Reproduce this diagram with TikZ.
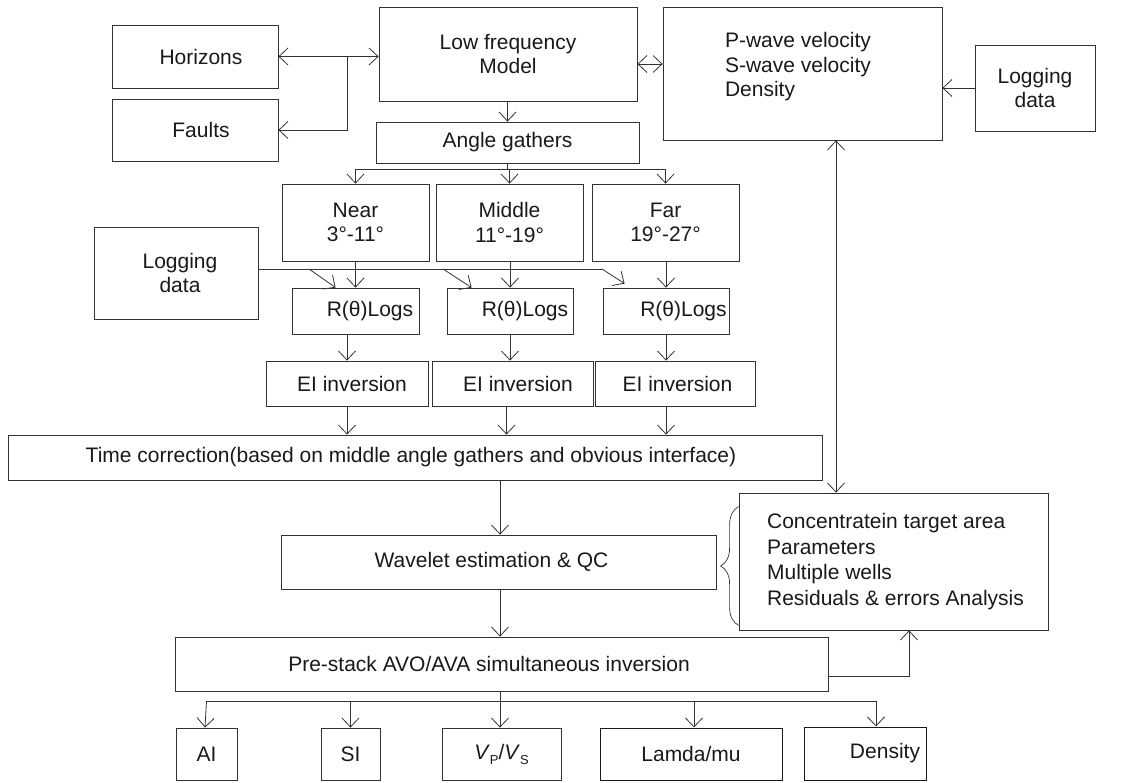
\documentclass[tikz,border=0pt]{standalone}
\usepackage{fontspec}
\setmainfont{Liberation Sans}
\usetikzlibrary{arrows.meta,calc,decorations.pathreplacing}
\newcommand\fsz{\fontsize{21}{24.5}\selectfont}
\begin{document}
\begin{tikzpicture}[x=1pt,y=1pt,
  box/.style={draw=black!80, line width=0.8pt, inner sep=0pt, font=\fsz, text=black!90, align=center},
  thickbox/.style={box, draw=black!90, line width=1.0pt},
  txt/.style={inner sep=0pt, font=\fsz, text=black!90, align=left},
  arr/.style={draw=black!80, line width=0.8pt, -{Straight Barb[length=9pt,width=17pt]}},
  darr/.style={draw=black!80, line width=0.8pt, {Straight Barb[length=9pt,width=17pt]}-{Straight Barb[length=9pt,width=17pt]}},
  ln/.style={draw=black!80, line width=0.8pt}]
\useasboundingbox (0,0) rectangle (1143,-783);
% top row
\node[box,minimum width=166pt,minimum height=63pt] (hor) at (195,-56.5) {\hspace*{12pt}Horizons};
\node[box,minimum width=166pt,minimum height=62pt] (fau) at (195,-130) {\hspace*{12pt}Faults};
\node[box,minimum width=258pt,minimum height=94pt] (lf) at (508,-54) {Low frequency\\Model};
\node[box,minimum width=279pt,minimum height=133pt] (pw) at (802.5,-73.5) {};
\node[txt] (pwt) at (798,-67) {P-wave velocity\\S-wave velocity\\Density};
\node[box,minimum width=120pt,minimum height=86pt] (log2) at (1035,-88) {Logging\\data};
% angle gathers
\node[box,minimum width=263pt,minimum height=41pt] (ang) at (507.5,-142.5) {Angle gathers};
\node[box,minimum width=147pt,minimum height=77pt] (near) at (355.5,-222.5) {Near\\3°-11°};
\node[box,minimum width=147pt,minimum height=77pt] (mid) at (509.5,-222.5) {Middle\\11°-19°};
\node[box,minimum width=147pt,minimum height=77pt] (far) at (665.5,-222.5) {Far\\19°-27°};
\node[box,minimum width=164pt,minimum height=92pt] (log1) at (176,-273) {\hspace*{8pt}Logging\\\hspace*{8pt}data};
% R logs
\node[box,minimum width=127pt,minimum height=46pt] (r1) at (355.5,-311) {\hspace*{29pt}R(θ)Logs};
\node[box,minimum width=126pt,minimum height=46pt] (r2) at (510,-311) {\hspace*{30pt}R(θ)Logs};
\node[box,minimum width=126pt,minimum height=46pt] (r3) at (666,-311) {\hspace*{35pt}R(θ)Logs};
% EI
\node[box,minimum width=162pt,minimum height=45pt] (ei1) at (347,-383.5) {\hspace*{10pt}EI inversion};
\node[box,minimum width=161pt,minimum height=45pt] (ei2) at (512.5,-383.5) {\hspace*{11pt}EI inversion};
\node[box,minimum width=160pt,minimum height=45pt] (ei3) at (675,-383.5) {\hspace*{5pt}EI inversion};
% lower
\node[box,minimum width=814pt,minimum height=45pt] (tc) at (415,-457.5) {Time correction(based on middle angle gathers and obvious interface)\hspace*{8pt}};
\node[box,minimum width=435pt,minimum height=54pt] (wav) at (498.5,-562) {Wavelet estimation \& QC\hspace*{14pt}};
\node[box,minimum width=653pt,minimum height=54pt] (pre) at (501.5,-664) {Pre-stack AVO/AVA simultaneous inversion\hspace*{25pt}};
\node[box,minimum width=309pt,minimum height=137pt] (con) at (893.5,-561.5) {};
\node[txt,font=\fontsize{21}{25.7}\selectfont] (cont) at (895.5,-561.5) {Concentratein target area\\Parameters\\Multiple wells\\Residuals \& errors Analysis};
% outputs
\node[box,minimum width=61pt,minimum height=52pt] (ai) at (206.5,-754) {AI};
\node[box,minimum width=59pt,minimum height=52pt] (si) at (350.5,-754) {SI};
\node[box,minimum width=119pt,minimum height=52pt] (vpvs) at (501.5,-754) {\textit{V}\raisebox{-0.45ex}{\fontsize{13}{13}\selectfont P}/\textit{V}\raisebox{-0.45ex}{\fontsize{13}{13}\selectfont S}};
\node[thickbox,minimum width=182pt,minimum height=52pt] (lam) at (691,-754) {Lamda/mu};
\node[thickbox,minimum width=122pt,minimum height=53pt] (den) at (865,-753.5) {\hspace*{40pt}Density};
% coordinates
\coordinate (j1) at (347,-56.5);
\coordinate (ab) at (507.5,-169);
\coordinate (lg) at (602,-269);
\coordinate (d1s) at (309,-269);
\coordinate (d2s) at (443,-269);
\coordinate (pb) at (500,-701);
\coordinate (dx) at (876,-701);
\coordinate (vx) at (836,0);
\coordinate (rx) at (909,0);
% connectors top
\draw[darr] (hor.east) -- (lf.west |- hor.east);
\draw[arr] (j1) -- (j1 |- fau.east) -- (fau.east);
\draw[darr] ($(lf.east)+(0,-10)$) -- ($(pw.west)+(0,9.5)$);
\draw[arr] (log2.west) -- (pw.east |- log2.west);
\draw[arr] (lf.south -| ang.north) -- (ang.north);
\draw[ln] (ang.south) -- (ab);
\draw[ln] (near.north |- ab) -- (far.north |- ab);
\draw[arr] (near.north |- ab) -- (near.north);
\draw[arr] (ab) -- (mid.north |- ab) -- (mid.north);
\draw[arr] (far.north |- ab) -- (far.north);
% logging data
\draw[ln] ($(log1.east)+(0,4)$) -- (lg);
\draw[arr] (d1s) -- ($(r1.north west)+(44,0)$);
\draw[arr] (d2s) -- ($(r2.north west)+(25,0)$);
\draw[arr] (lg) -- ($(r3.north west)+(22,4)$);
\draw[arr] (near.south) -- (r1.north);
\draw[arr] (mid.south -| r2.north) -- (r2.north);
\draw[arr] (far.south -| r3.north) -- (r3.north);
% R -> EI
\draw[arr] (r1.south -| ei1.north) -- (ei1.north);
\draw[arr] (r2.south) -- (r2.south |- ei2.north);
\draw[arr] (r3.south) -- (r3.south |- ei3.north);
% EI -> TC
\draw[arr] (ei1.south) -- (ei1.south |- tc.north);
\draw[arr] ($(ei2.south)+(-6,0)$) -- ($(ei2.south |- tc.north)+(-6,0)$);
\draw[arr] ($(ei3.south)+(-9,0)$) -- ($(ei3.south |- tc.north)+(-9,0)$);
% chain
\draw[arr] (tc.south -| pb) -- (wav.north -| pb);
\draw[arr] (wav.south -| pb) -- (pre.north -| pb);
\draw[darr] (pw.south -| vx) -- (con.north -| vx);
\draw[arr] ($(pre.east)+(0,-12)$) -- ($(rx |- pre.east)+(0,-12)$) -- (rx |- con.south);
\draw[ln, line width=0.7pt, decorate, decoration={brace, amplitude=18pt}] ($(con.south west)+(0,5)$) -- ($(con.north west)+(0,-14)$);
% outputs
\draw[ln] (pre.south -| pb) -- (pb);
\draw[ln] (ai.north |- pb) -- (dx);
\draw[arr] (ai.north |- pb) -- ($(ai.north)+(-1.5,0)$);
\draw[arr] (si.north |- pb) -- (si.north);
\draw[arr] (pb) -- (vpvs.north -| pb);
\draw[arr] ($(lam.north |- pb)+(3,0)$) -- ($(lam.north)+(3,0)$);
\draw[arr] (dx) -- (den.north -| dx);
\end{tikzpicture}
\end{document}
